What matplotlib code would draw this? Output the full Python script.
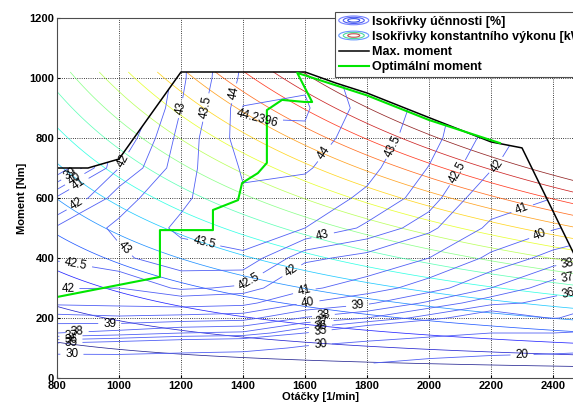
import numpy as np
import matplotlib
matplotlib.use("Agg")
import matplotlib.pyplot as plt
from matplotlib.patches import Ellipse, Polygon
from matplotlib.legend_handler import HandlerBase
from matplotlib.lines import Line2D

plt.rcParams["font.family"] = ["Liberation Sans", "DejaVu Sans"]

# efficiency map [%], rows = torque, columns = speed
speed = [800, 1000, 1200, 1400, 1600, 1800, 2000, 2200, 2400, 2500]
torque = [50, 100, 150, 200, 250, 300, 400, 500, 600, 700, 800, 900, 1000, 1050]
eff_800 = [25.0, 33.5, 38.0, 39.6, 41.2, 42.05, 42.55, 42.6, 41.2, 37.0, 36.0, 35.0, 34.0, 34.0]
eff_1000 = [26.0, 33.0, 37.6, 39.8, 41.3, 42.0, 42.9, 43.1, 42.8, 42.0, 41.5, 41.0, 40.5, 40.5]
eff_1200 = [25.0, 32.5, 37.0, 39.6, 41.5, 42.6, 43.3, 43.6, 43.4, 43.3, 43.2, 43.0, 42.9, 42.9]
eff_1400 = [24.0, 32.0, 36.8, 39.4, 41.3, 42.4, 43.4, 43.8, 43.95, 44.05, 44.22, 44.25, 44.1, 44.05]
eff_1600 = [20.5, 29.2, 35.0, 37.9, 40.0, 41.2, 42.15, 43.5, 43.8, 44.05, 44.2, 44.27, 44.2, 44.1]
eff_1800 = [20.3, 27.5, 33.0, 37.0, 39.2, 40.5, 41.8, 42.9, 43.4, 43.65, 43.8, 43.9, 43.85, 43.8]
eff_2000 = [17.5, 26.0, 31.5, 35.5, 37.8, 39.5, 41.0, 42.2, 42.75, 42.98, 43.2, 43.3, 43.3, 43.3]
eff_2200 = [15.0, 25.0, 30.0, 33.8, 36.3, 38.0, 39.8, 40.8, 41.5, 42.05, 42.3, 42.4, 42.4, 42.4]
eff_2400 = [13.0, 24.5, 30.0, 35.1, 35.7, 36.4, 38.6, 40.1, 41.0, 41.4, 41.5, 41.5, 41.5, 41.5]
eff_2500 = [12.0, 23.5, 29.5, 34.6, 35.4, 36.1, 38.2, 39.7, 40.6, 41.0, 41.2, 41.2, 41.2, 41.2]
eff_levels = [20, 30, 35, 36, 37, 38, 39, 40, 41, 42, 42.5, 43, 43.5, 44, 44.2396]

# full load curve
max_speed = [800, 900, 1000, 1200, 1600, 1700, 1800, 2000, 2200, 2300, 2500]
max_torque = [700, 700, 730, 1020, 1020, 983, 950, 868, 787, 767, 345]

# optimal torque
opt_speed = [800, 1132, 1132, 1303, 1303, 1384, 1397, 1448, 1477, 1477, 1526, 1600, 1623,
             1575, 1800, 2000, 2229]
opt_torque = [270, 337, 493, 493, 560, 593, 650, 683, 717, 893, 927, 920, 920,
              1017, 942, 860, 783]

power_levels = [10, 20, 30, 40, 50, 60, 70, 80, 90, 100, 110, 120, 130, 140, 150, 160, 170]

eff = np.column_stack([eff_800, eff_1000, eff_1200, eff_1400, eff_1600,
                       eff_1800, eff_2000, eff_2200, eff_2400, eff_2500])

fig = plt.figure(figsize=(5.73, 4.08), dpi=100)
ax = fig.add_axes([0.0995, 0.0735, 0.9197, 0.8824])

# constant power lines P = M * omega
nn, mm = np.meshgrid(np.linspace(800, 2500, 120), np.linspace(0, 1020, 120))
pp = mm * nn * np.pi / 30 / 1000
ax.contour(nn, mm, pp, levels=power_levels, cmap="jet", vmin=10, vmax=170,
           linewidths=0.55, alpha=0.85)

eff_color = (0.32, 0.38, 0.96)
cs = ax.contour(speed, torque, eff, levels=eff_levels, colors=[eff_color], linewidths=0.6)
env = Polygon(np.column_stack([[800] + max_speed + [2500], [0] + max_torque + [0]]),
              closed=True, transform=ax.transData)
cs.set_clip_path(env)

label_pos = [(2300, 80), (848, 77), (1650, 107), (845, 110), (1650, 150), (845, 122),
             (1650, 172), (845, 137), (1655, 190), (865, 155), (1660, 203),
             (970, 170), (1770, 237), (845, 678), (862, 656), (1610, 250), (2360, 473),
             (880, 634), (1600, 283), (2295, 577), (865, 575), (1026, 717), (835, 300),
             (1550, 367), (2200, 717), (865, 400), (1430, 310), (2075, 693),
             (1026, 440), (1197, 900), (1655, 483), (1277, 460), (1290, 900), (1916, 760),
             (1365, 950), (1690, 733), (1445, 877), (2450, 367), (2450, 317), (2450, 280)]
ax.clabel(cs, manual=label_pos, inline=True, fontsize=8.5, fmt="%g", colors="k")

ax.plot(max_speed, max_torque, color="k", linewidth=1.1)
ax.plot(opt_speed, opt_torque, color=(0, 0.9, 0), linewidth=1.5)

ax.set_xlim(800, 2500)
ax.set_ylim(0, 1200)
ax.set_xticks([800, 1000, 1200, 1400, 1600, 1800, 2000, 2200, 2400])
ax.set_yticks([0, 200, 400, 600, 800, 1000, 1200])
ax.grid(True, linestyle=":", color="k", linewidth=0.6)
ax.tick_params(direction="in", length=2, labelsize=8, pad=2)
for lab in ax.get_xticklabels() + ax.get_yticklabels():
    lab.set_fontweight("bold")
for sp in ax.spines.values():
    sp.set_color("0.3")
ax.set_xlabel("Otáčky [1/min]", fontsize=8, fontweight="bold", labelpad=1)
ax.set_ylabel("Moment [Nm]", fontsize=8, fontweight="bold", labelpad=2)


class Rings:
    def __init__(self, colors):
        self.colors = colors


class HandlerRings(HandlerBase):
    def create_artists(self, legend, orig_handle, xdescent, ydescent, width, height,
                       fontsize, trans):
        cx = width / 2 - xdescent
        cy = height / 2 - ydescent
        arts = []
        for k, c in enumerate(orig_handle.colors):
            f = 1 - 0.3 * k
            e = Ellipse((cx, cy), width * f, height * 1.0 * f, fill=False,
                        edgecolor=c, linewidth=0.8, transform=trans)
            arts.append(e)
        return arts


h_eff = Rings([(0.45, 0.5, 1.0), (0.3, 0.36, 0.95), (0.2, 0.3, 0.9)])
h_pow = Rings([(0.4, 0.6, 1.0), (0.3, 0.85, 0.6), (0.75, 0.3, 0.3)])
h_max = Line2D([], [], color="k", linewidth=1.1)
h_opt = Line2D([], [], color=(0, 0.9, 0), linewidth=1.5)
leg = fig.legend([h_eff, h_pow, h_max, h_opt],
                 ["Isokřivky účnnosti [%]", "Isokřivky konstantního výkonu [kW]",
                  "Max. moment", "Optimální moment"],
                 handler_map={Rings: HandlerRings()},
                 loc="upper left", bbox_to_anchor=(335 / 573, 396 / 408),
                 borderaxespad=0, prop={"weight": "bold", "size": 9},
                 handlelength=2.4, handletextpad=0.25, labelspacing=0.25,
                 borderpad=0.3, fancybox=False, framealpha=1, edgecolor="0.3")
leg.get_frame().set_linewidth(0.8)

fig.savefig("out.png", dpi=100)
